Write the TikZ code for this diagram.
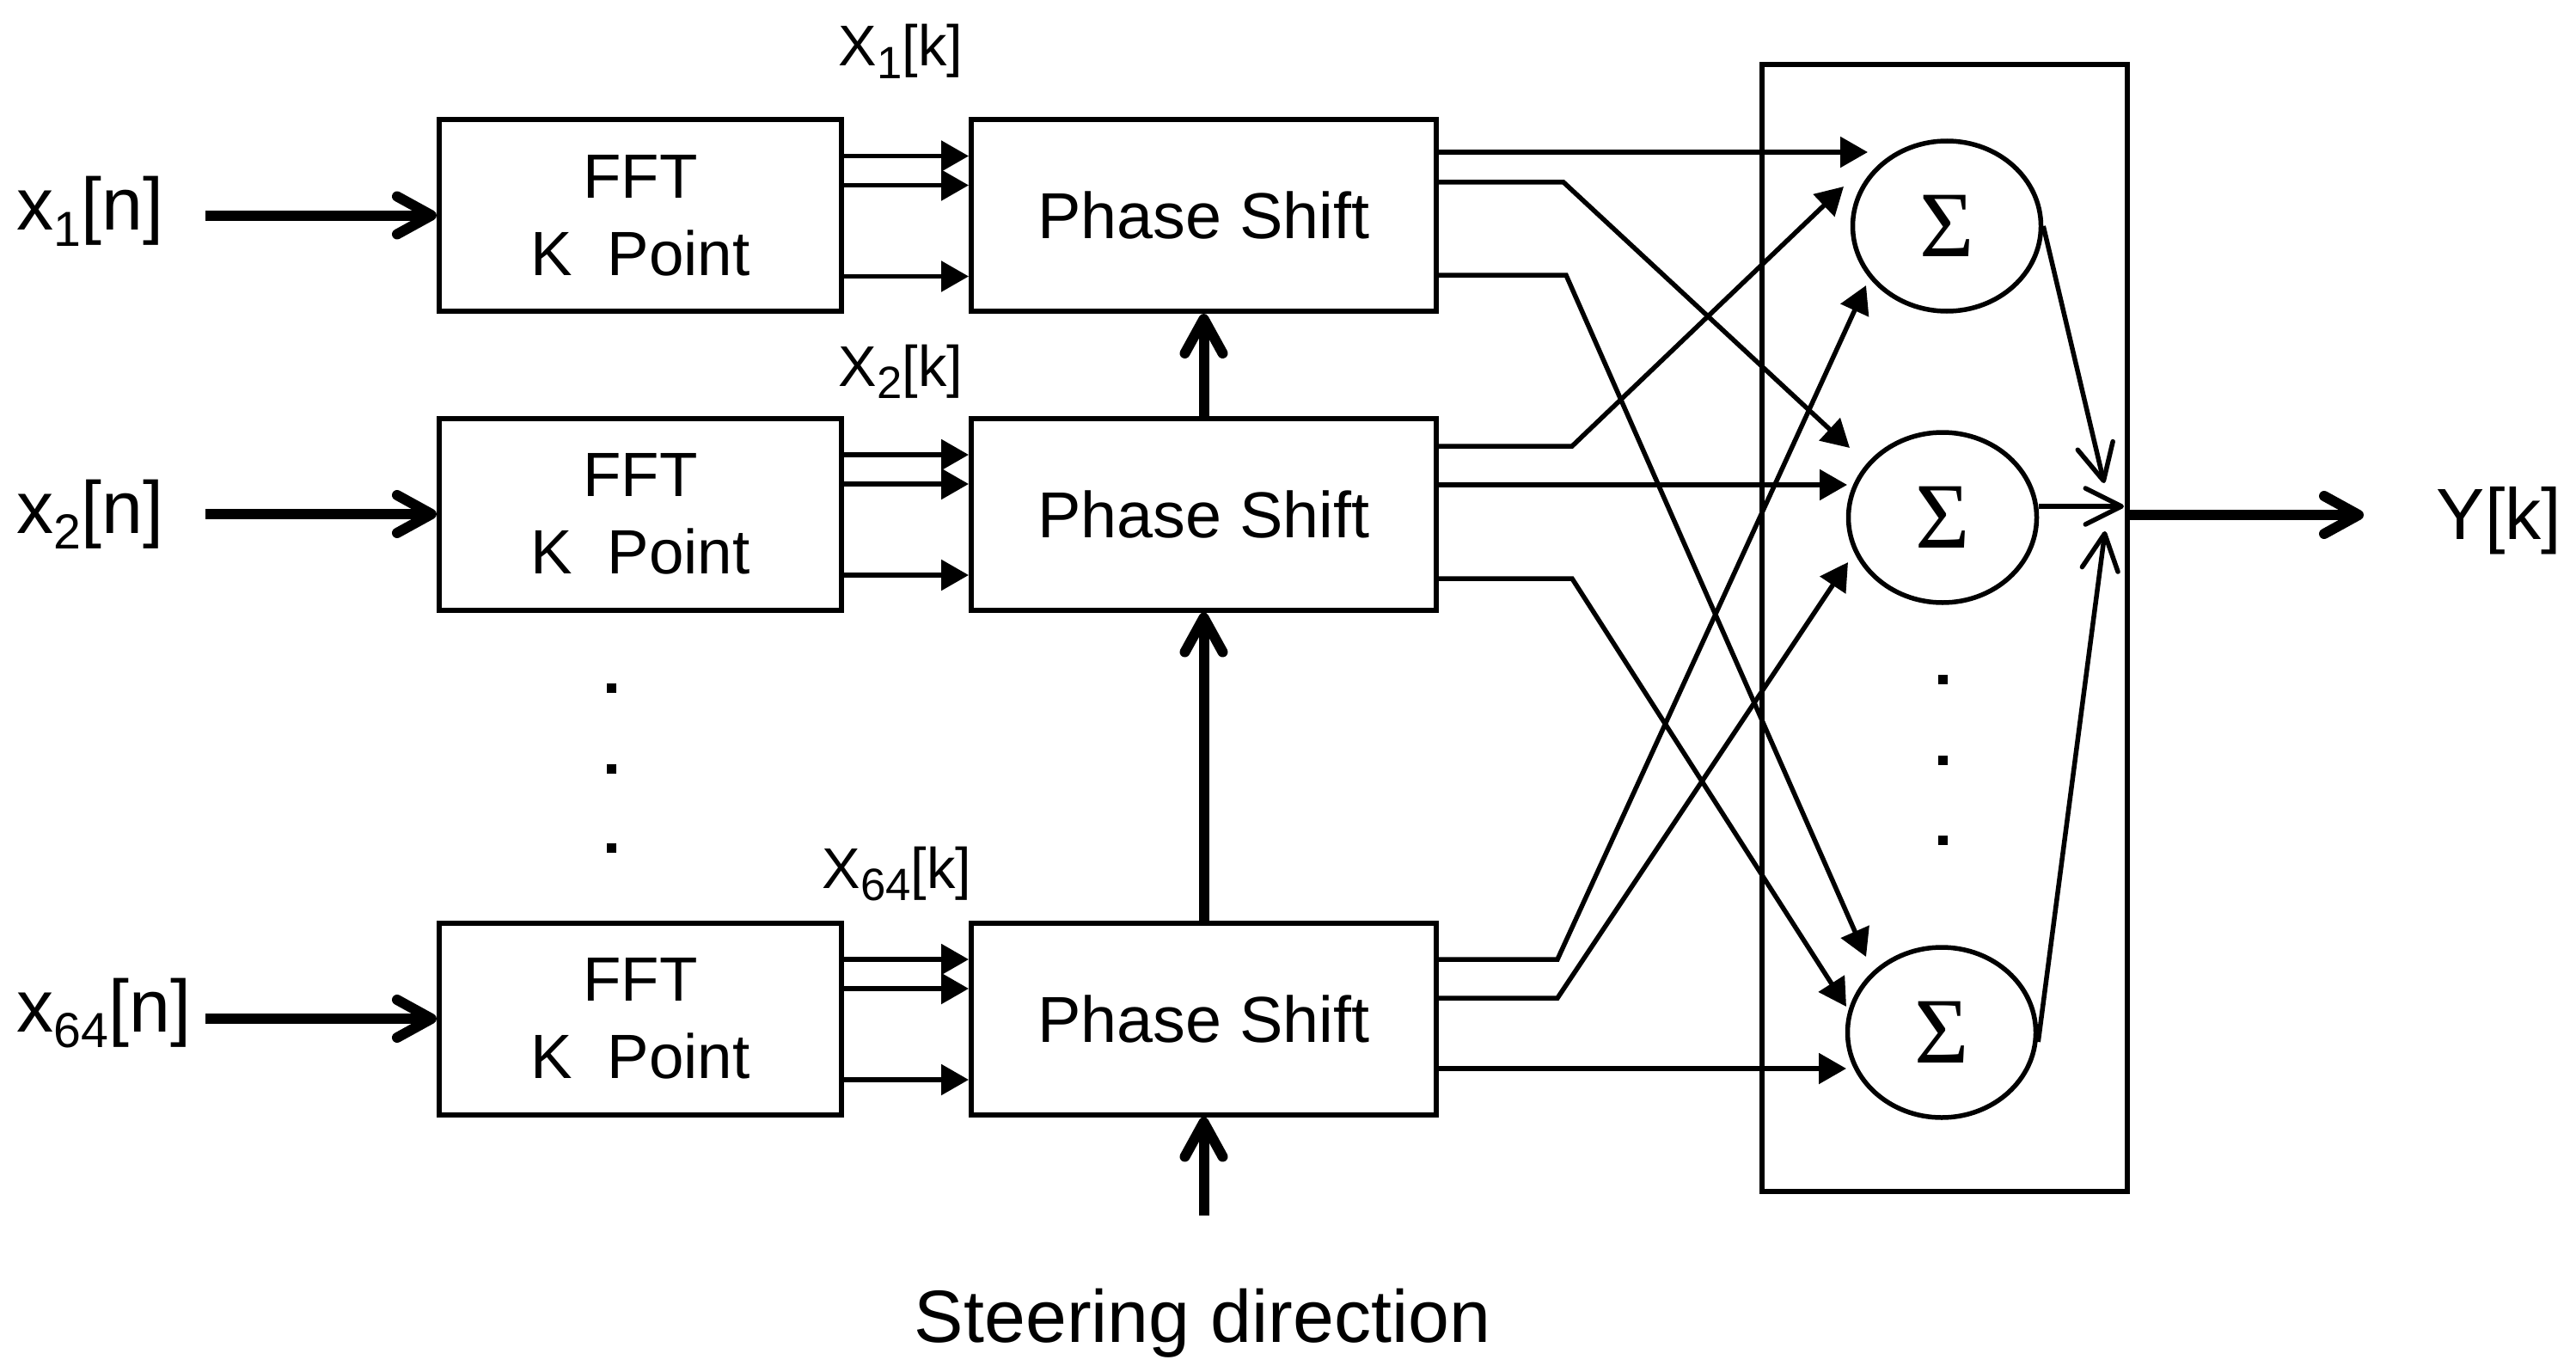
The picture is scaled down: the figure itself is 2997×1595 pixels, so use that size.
\documentclass[tikz,border=0pt]{standalone}
\usepackage{fontspec}
\setmainfont{Liberation Sans}
\newfontfamily\sigmafont{Liberation Serif}
\usetikzlibrary{arrows.meta,shapes.geometric,calc}
\newcommand{\insub}[1]{\raisebox{-5.2pt}{\fontsize{16.3}{16.3}\selectfont #1}}
\newcommand{\ksub}[1]{\raisebox{-4.2pt}{\fontsize{15}{15}\selectfont #1}}
\begin{document}
\begin{tikzpicture}[x=0.1mm,y=-0.1mm,
  box/.style={draw,line width=0.6mm,inner sep=0pt,align=center,minimum height=22.3mm},
  fftbox/.style={box,minimum width=46.8mm,font=\fontsize{20.7}{25.6}\selectfont},
  psbox/.style={box,minimum width=54.1mm,font=\fontsize{21.5}{26}\selectfont},
  sumnode/.style={ellipse,draw,line width=0.55mm,inner sep=0pt,minimum width=21.9mm,minimum height=19.8mm,font=\sigmafont\fontsize{31}{31}\selectfont},
  inlbl/.style={inner sep=0pt,anchor=base west,font=\fontsize{24.5}{24.5}\selectfont},
  klbl/.style={inner sep=0pt,anchor=base west,font=\fontsize{19}{19}\selectfont},
  tri/.style={line width=0.55mm,-{Triangle[length=3.2mm,width=3.5mm]}},
  thickarr/.style={line width=1.2mm,-{Straight Barb[length=4mm,width=4.4mm,round]}},
  barb/.style={line width=0.55mm,-{Straight Barb[length=4.2mm,width=4.2mm,round]}}
]
\useasboundingbox (0,0) rectangle (2997,1595);

% blocks
\node[fftbox] (fft1) at (745,250.5) {FFT\\K~~Point};
\node[fftbox] (fft2) at (745,598) {FFT\\K~~Point};
\node[fftbox] (fft3) at (745,1185) {FFT\\K~~Point};
\node[psbox] (ps1) at (1400.5,250.5) {Phase Shift};
\node[psbox] (ps2) at (1400.5,598) {Phase Shift};
\node[psbox] (ps3) at (1400.5,1185) {Phase Shift};
\node[draw,line width=0.6mm,minimum width=42.5mm,minimum height=131.1mm,inner sep=0pt] (sumbox) at (2262.5,730.5) {};
\node[sumnode] (s1) at (2265,263) {Σ};
\node[sumnode] (s2) at (2260,602) {Σ};
\node[sumnode] (s3) at (2259,1201) {Σ};

% labels
\node[inlbl] (lx1) at (19,268) {x\insub{1}[n]};
\node[inlbl] (lx2) at (19,620) {x\insub{2}[n]};
\node[inlbl] (lx64) at (19,1200) {x\insub{64}[n]};
\node[klbl] (lk1) at (975,77) {X\ksub{1}[k]};
\node[klbl] (lk2) at (975,449) {X\ksub{2}[k]};
\node[klbl] (lk64) at (956,1033) {X\ksub{64}[k]};
\node[inner sep=0pt,anchor=base west,font=\fontsize{24}{24}\selectfont] (ly) at (2834,627) {Y[k]};
\node[inner sep=0pt,anchor=base,font=\fontsize{24.5}{24.5}\selectfont] (lsteer) at (1399,1561) {Steering direction};

% dots
\foreach \y in {800,894,986} \fill (705.5,\y-5.5) rectangle ++(11,11);
\foreach \y in {790,884,977} \fill (2254.5,\y-5.5) rectangle ++(11,11);

% inputs
\coordinate (in1) at (239,250.5);
\coordinate (in2) at (239,598);
\coordinate (in3) at (239,1185);
\draw[thickarr] (in1) -- (fft1.west);
\draw[thickarr] (in2) -- (fft2.west);
\draw[thickarr] (in3) -- (fft3.west);

% FFT -> phase shift
\foreach \r in {1,2,3}{
  \foreach \d in {-69,-35,71}{
    \draw[tri] ($(fft\r.east)+(0,\d)$) -- ($(ps\r.west)+(0,\d)$);
  }
}

% steering
\coordinate (steer) at (1400.5,1414);
\draw[thickarr] (steer) -- (ps3.south);
\draw[thickarr] (ps3.north) -- (ps2.south);
\draw[thickarr] (ps2.north) -- (ps1.south);

% phase shift -> sums
\coordinate (t11) at (2173,177);
\coordinate (t12) at (2145,217);
\coordinate (t13) at (2171,332);
\coordinate (t21) at (2152,521);
\coordinate (t22) at (2149,564);
\coordinate (t23) at (2150,654);
\coordinate (t31) at (2171,1113);
\coordinate (t32) at (2148,1171);
\coordinate (t33) at (2148,1243);
\draw[tri] ($(ps1.east)+(0,-73.5)$) -- (t11);
\draw[tri] ($(ps1.east)+(0,-38.5)$) -- ++(145,0) -- (t21);
\draw[tri] ($(ps1.east)+(0,69.5)$) -- ++(148,0) -- (t31);
\draw[tri] ($(ps2.east)+(0,-79)$) -- ++(155,0) -- (t12);
\draw[tri] ($(ps2.east)+(0,-34)$) -- (t22);
\draw[tri] ($(ps2.east)+(0,75)$) -- ++(155,0) -- (t32);
\draw[tri] ($(ps3.east)+(0,-69)$) -- ++(138,0) -- (t13);
\draw[tri] ($(ps3.east)+(0,-24)$) -- ++(138,0) -- (t23);
\draw[tri] ($(ps3.east)+(0,58)$) -- (t33);

% sums -> output
\coordinate (j1) at (2448,562);
\coordinate (j2) at (2471,589);
\coordinate (j3) at (2449,618);
\draw[barb] (s1.east) -- (j1);
\draw[barb] ($(s2.east)+(0,-13)$) -- (j2);
\draw[barb] ($(s3.east)+(0,11)$) -- (j3);
\coordinate (yend) at (2750,599);
\draw[thickarr] (sumbox.east |- yend) -- (yend);
\end{tikzpicture}
\end{document}
